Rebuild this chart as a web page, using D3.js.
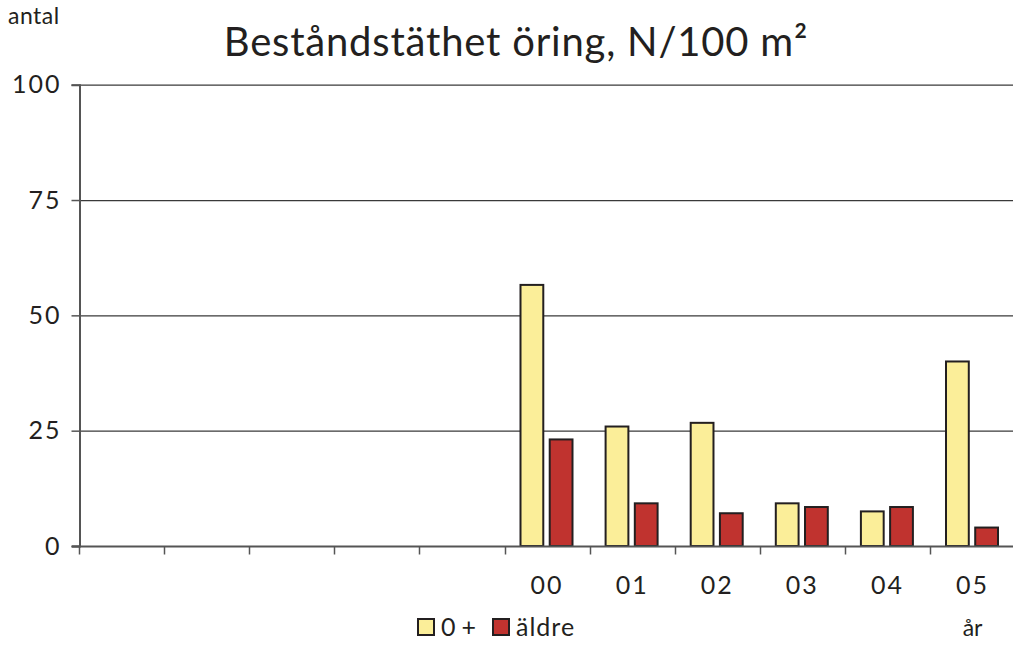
<!DOCTYPE html>
<html>
<head>
<meta charset="utf-8">
<script src="https://cdn.jsdelivr.net/npm/d3@7"></script>
<style>
  body { margin: 0; background: #fff; }
  text { font-family: "Lato", "DejaVu Sans", sans-serif; fill: #231f20; }
</style>
</head>
<body>
<div id="chart"></div>
<script>
// categories (first five slots are empty years)
let years = ['', '', '', '', '', '00', '01', '02', '03', '04', '05']
let young = [null, null, null, null, null, 56.6, 25.9, 26.7, 9.25, 7.5, 40.0]
let older = [null, null, null, null, null, 23.1, 9.25, 7.1, 8.45, 8.45, 4.0]
let yTicks = [0, 25, 50, 75, 100]
let seriesNames = ['0+', 'äldre']
let colors = ['#fbee99', '#c0332f']

let width = 1013
    height = 645

let svg = d3.select("#chart")
  .append("svg")
  .attr("width", width)
  .attr("height", height)

// scales
let x = d3.scaleBand()
  .domain(d3.range(years.length))
  .range([79, 79 + 85.1 * years.length])
  .padding(0)

let sub = d3.scaleBand()
  .domain([0, 1])
  .range([16, 68])
  .paddingInner(0.22)

let y = d3.scaleLinear()
  .domain([0, 100])
  .range([546, 84.7])

// grid lines
svg.selectAll(".grid")
  .data(yTicks.filter(d => d > 0))
  .enter()
  .append("line")
  .attr("x1", 79)
  .attr("x2", width)
  .attr("y1", d => y(d) + 0.5)
  .attr("y2", d => y(d) + 0.5)
  .attr("stroke", "#3a3a3a")
  .attr("stroke-width", 1.3)

// y axis
let yAxis = svg.append("g")
  .attr("transform", "translate(79.5,0)")
  .call(d3.axisLeft(y).tickValues(yTicks).tickSize(8).tickPadding(10))
yAxis.select(".domain").attr("stroke", "#555").attr("stroke-width", 2)
yAxis.selectAll(".tick line").attr("stroke", "#555").attr("stroke-width", 1.5)
yAxis.selectAll(".tick text")
  .style("font-size", "25px")
  .style("letter-spacing", "2px")
  .style("font-family", "Lato, 'DejaVu Sans', sans-serif")
  .attr("fill", "#231f20")

// bars
let groups = svg.selectAll(".yr")
  .data(years.map((d, i) => ({ i: i, vals: [young[i], older[i]] })))
  .enter()
  .append("g")
  .attr("transform", d => "translate(" + x(d.i) + ",0)")

groups.selectAll("rect")
  .data(d => d.vals.map((v, k) => ({ k: k, v: v })).filter(e => e.v != null))
  .enter()
  .append("rect")
  .attr("x", d => sub(d.k))
  .attr("width", sub.bandwidth())
  .attr("y", d => y(d.v))
  .attr("height", d => y(0) - y(d.v))
  .attr("fill", d => colors[d.k])
  .attr("stroke", "#231f20")
  .attr("stroke-width", 2)

// x axis
let xAxis = svg.append("g")
  .attr("transform", "translate(0,546.5)")
  .call(d3.axisBottom(x).tickSize(0).tickPadding(30).tickFormat(i => years[i]))
xAxis.select(".domain").remove()
xAxis.append("line")
  .attr("x1", 72).attr("x2", width)
  .attr("stroke", "#555").attr("stroke-width", 2)
xAxis.selectAll(".sep")
  .data(d3.range(years.length))
  .enter()
  .append("line")
  .attr("x1", i => Math.round(x(i)) + 0.5)
  .attr("x2", i => Math.round(x(i)) + 0.5)
  .attr("y1", 0).attr("y2", 8)
  .attr("stroke", "#555").attr("stroke-width", 1.5)
xAxis.selectAll(".tick text")
  .style("font-size", "25px")
  .style("letter-spacing", "2px")
  .style("font-family", "Lato, 'DejaVu Sans', sans-serif")
  .attr("fill", "#231f20")

// titles
svg.append("text")
  .attr("x", 516).attr("y", 56)
  .attr("text-anchor", "middle")
  .style("font-size", "40px")
  .style("letter-spacing", "0.8px")
  .text("Beståndstäthet öring, N/100 m²")

svg.append("text")
  .attr("x", 8).attr("y", 24)
  .style("font-size", "23px")
  .style("letter-spacing", "0.5px")
  .text("antal")

svg.append("text")
  .attr("x", x(10) + x.bandwidth() / 2).attr("y", 636)
  .attr("text-anchor", "middle")
  .style("font-size", "23px")
  .text("år")

// legend
let legend = svg.append("g").attr("transform", "translate(418,619)")
let lx = [0, 75]
seriesNames.forEach((n, k) => {
  legend.append("rect")
    .attr("x", lx[k]).attr("y", 0)
    .attr("width", 16).attr("height", 16)
    .attr("fill", colors[k])
    .attr("stroke", "#231f20")
    .attr("stroke-width", 2)
  legend.append("text")
    .attr("x", lx[k] + 23).attr("y", 17)
    .style("font-size", "25px")
    .style("letter-spacing", k === 0 ? "6px" : "1px")
    .text(n)
})
</script>
</body>
</html>
